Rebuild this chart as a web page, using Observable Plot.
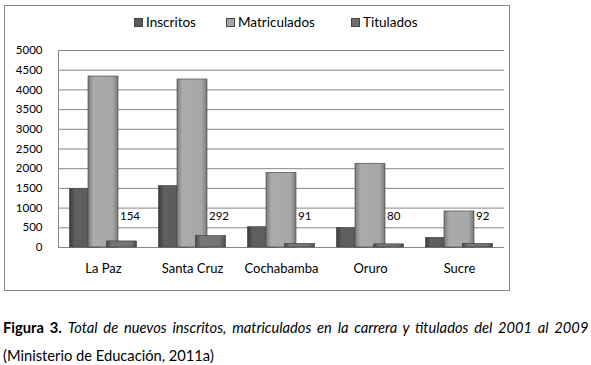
<!DOCTYPE html>
<html><head><meta charset="utf-8">
<script src="https://cdn.jsdelivr.net/npm/d3@7"></script>
<script src="https://cdn.jsdelivr.net/npm/@observablehq/plot@0.6"></script>
<style>
body{margin:0;background:#fff;font-family:Lato,sans-serif;color:#000;}
#wrap{position:relative;width:591px;height:365px;overflow:hidden;}
#box{position:absolute;left:4px;top:5px;width:506px;height:286px;border:1px solid #888;box-sizing:border-box;}
.item{position:absolute;top:14px;height:16px;display:flex;align-items:center;font-size:13.5px;white-space:nowrap;}
.sw{width:9px;height:9px;margin-right:3px;box-sizing:border-box;border:1px solid #444;}
#chart{position:absolute;left:0;top:35px;}
.cap{position:absolute;left:3px;font-size:14.7px;white-space:nowrap;line-height:18px;}
</style></head><body>
<div id="wrap">
<div id="box"></div>
<div id="legend"></div>
<div id="chart"></div>
<div class="cap" style="top:318px;word-spacing:2.3px"><b>Figura 3.</b> <i>Total de nuevos inscritos, matriculados en la carrera y titulados del 2001 al 2009</i></div>
<div class="cap" style="top:346px">(Ministerio de Educación, 2011a)</div>
</div>
<script>
const categories = ["La Paz", "Santa Cruz", "Cochabamba", "Oruro", "Sucre"];
const series = ["Inscritos", "Matriculados", "Titulados"];
const inscritos = [1480, 1560, 515, 490, 245];
const matriculados = [4340, 4265, 1895, 2125, 915];
const titulados = [154, 292, 91, 80, 92];
const yTicks = [0, 500, 1000, 1500, 2000, 2500, 3000, 3500, 4000, 4500, 5000];

const colors = {Inscritos: "#5a5a5a", Matriculados: "#a6a6a6", Titulados: "#6f6f6f"};
const grads = {
  Inscritos: ["#3a3a3a", "#606060", "#5a5a5a", "#383838"],
  Matriculados: ["#7c7c7c", "#ababab", "#a6a6a6", "#7a7a7a"],
  Titulados: ["#4a4a4a", "#777777", "#727272", "#4a4a4a"]
};
const values = {Inscritos: inscritos, Matriculados: matriculados, Titulados: titulados};
const rows = series.flatMap(s => categories.map((c, i) => ({category: c, series: s, value: values[s][i]})));

// legend
const legendLeft = {Inscritos: 134, Matriculados: 226, Titulados: 351};
const legend = document.getElementById("legend");
series.forEach(s => {
  const it = document.createElement("div");
  it.className = "item";
  it.style.left = legendLeft[s] + "px";
  it.innerHTML = `<span class="sw" style="background:${colors[s]}"></span><span>${s}</span>`;
  legend.appendChild(it);
});

const offset = {Inscritos: -18.5, Matriculados: 0, Titulados: 18.5};
const barMarks = series.map(s => Plot.barY(rows.filter(d => d.series === s), {
  x: "category", y: "value", fill: `url(#g${s})`, dx: offset[s],
  stroke: "#3a3a3a", strokeWidth: 0.6
}));

const plot = Plot.plot({
  width: 591,
  height: 255,
  marginTop: 15,
  marginBottom: 43,
  marginLeft: 58,
  marginRight: 87,
  style: {fontFamily: "Lato, sans-serif", fontSize: "12px", color: "#000", background: "transparent"},
  x: {domain: categories, paddingInner: 0.6637, paddingOuter: 0.33185, label: null},
  y: {domain: [0, 5000], label: null},
  marks: [
    Plot.ruleY(yTicks, {stroke: "#868686", strokeWidth: 1}),
    Plot.frame({anchor: "left", stroke: "#868686"}),
    Plot.axisY(yTicks, {tickSize: 0, tickPadding: 16, label: null, fontSize: 11.5, tickFormat: d => String(d)}),
    Plot.axisX({tickSize: 0, tickPadding: 16, label: null, fontSize: 13}),
    ...barMarks,
    Plot.text(rows.filter(d => d.series === "Titulados"), {
      x: "category", y: () => 0, text: d => String(d.value), textAnchor: "start",
      dx: 16.5, dy: -31, fontSize: 11.5, fill: "#000"
    })
  ]
});

const ns = "http://www.w3.org/2000/svg";
const defs = document.createElementNS(ns, "defs");
series.forEach(s => {
  const g = document.createElementNS(ns, "linearGradient");
  g.setAttribute("id", "g" + s);
  g.setAttribute("x1", "0"); g.setAttribute("x2", "1"); g.setAttribute("y1", "0"); g.setAttribute("y2", "0");
  [0, 0.18, 0.82, 1].forEach((o, k) => {
    const st = document.createElementNS(ns, "stop");
    st.setAttribute("offset", o);
    st.setAttribute("stop-color", grads[s][k]);
    g.appendChild(st);
  });
  defs.appendChild(g);
});
plot.insertBefore(defs, plot.firstChild);
document.getElementById("chart").appendChild(plot);
</script>
</body></html>
